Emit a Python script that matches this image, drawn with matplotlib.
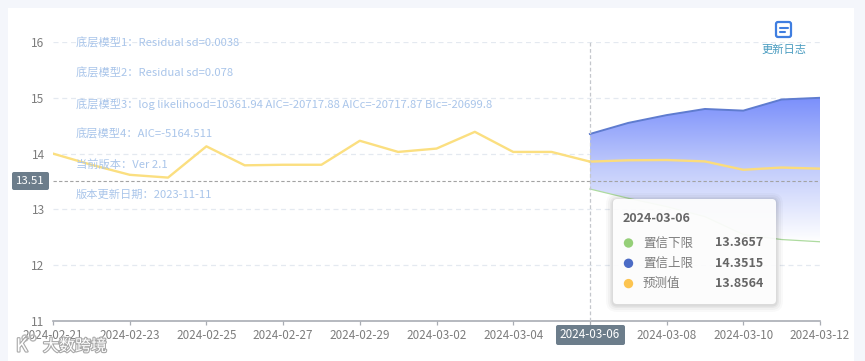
import matplotlib
matplotlib.use('Agg')
import matplotlib.pyplot as plt
import matplotlib.dates as mdates
import matplotlib.patheffects as pe
import numpy as np
import pandas as pd
from matplotlib.colors import LinearSegmentedColormap
from matplotlib.patches import FancyBboxPatch, PathPatch, Circle
from matplotlib.path import Path

plt.rcParams['font.family'] = ['Noto Sans CJK SC', 'DejaVu Sans']

W, H = 865, 361

hist_dates = ['2024-02-21', '2024-02-22', '2024-02-23', '2024-02-24', '2024-02-25',
              '2024-02-26', '2024-02-27', '2024-02-28', '2024-02-29', '2024-03-01',
              '2024-03-02', '2024-03-03', '2024-03-04', '2024-03-05', '2024-03-06']
hist_values = [14.00, 13.80, 13.62, 13.57, 14.13, 13.79, 13.80, 13.80, 14.23,
               14.03, 14.09, 14.39, 14.03, 14.03, 13.8564]

fc_dates = ['2024-03-06', '2024-03-07', '2024-03-08', '2024-03-09',
            '2024-03-10', '2024-03-11', '2024-03-12']
fc_pred = [13.8564, 13.88, 13.885, 13.86, 13.71, 13.75, 13.73]
fc_upper = [14.3515, 14.55, 14.69, 14.80, 14.77, 14.97, 15.00]
fc_lower = [13.3657, 13.20, 13.05, 12.87, 12.55, 12.46, 12.42]

y_ticks = [11, 12, 13, 14, 15, 16]
x_ticks = ['2024-02-21', '2024-02-23', '2024-02-25', '2024-02-27', '2024-02-29',
           '2024-03-02', '2024-03-04', '2024-03-06', '2024-03-08', '2024-03-10', '2024-03-12']
pointer_y = 13.51
pointer_x = '2024-03-06'

notes = ['底层模型1：Residual sd=0.0038',
         '底层模型2：Residual sd=0.078',
         '底层模型3：log likelihood=10361.94 AIC=-20717.88 AICc=-20717.87 BIc=-20699.8',
         '底层模型4：AIC=-5164.511',
         '当前版本：Ver 2.1',
         '版本更新日期：2023-11-11']
tip_names = ['置信下限', '置信上限', '预测值']
tip_values = ['13.3657', '14.3515', '13.8564']
tip_colors = ['#95cf78', '#4c6cc6', '#fcc450']


def px(x, y):
    # pixel position from the top left -> figure fraction
    return x / W, 1 - y / H


fig = plt.figure(figsize=(W / 100, H / 100), dpi=100, facecolor='#f4f6fb')

# white card behind the chart
card = fig.add_axes([8 / W, 0, 846 / W, 1 - 8 / H], zorder=0)
card.set_facecolor('white')
card.set_xticks([])
card.set_yticks([])
for s in card.spines.values():
    s.set_visible(False)

ax = fig.add_axes([53 / W, 1 - 321 / H, 767 / W, 279 / H], zorder=1)
ax.patch.set_alpha(0)

hd = pd.to_datetime(hist_dates)
fd = pd.to_datetime(fc_dates)
xt = pd.to_datetime(x_ticks)
fx = mdates.date2num(fd)

ax.set_xlim(hd[0], fd[-1])
ax.set_ylim(11, 16)

for t in y_ticks[1:]:
    ax.axhline(t, color='#e4e9f0', lw=0.9, ls=(0, (4, 3)), zorder=1)

# band between the bounds, fading out towards the lower one
poly = np.vstack([np.column_stack([fx, fc_upper]),
                  np.column_stack([fx[::-1], fc_lower[::-1]]),
                  [[fx[0], fc_upper[0]]]])
codes = [Path.MOVETO] + [Path.LINETO] * (len(poly) - 2) + [Path.CLOSEPOLY]
clip = PathPatch(Path(poly, codes), transform=ax.transData, fc='none', ec='none')
ax.add_patch(clip)
cmap = LinearSegmentedColormap.from_list('band', ['#7b90fb', '#c3cdfb', '#ffffff'])
grad = np.linspace(0, 1, 256).reshape(-1, 1)
im = ax.imshow(grad, cmap=cmap, aspect='auto', zorder=2,
               extent=[fx[0], fx[-1], min(fc_lower), max(fc_upper)], origin='upper')
im.set_clip_path(clip)
ax.set_xlim(hd[0], fd[-1])
ax.set_ylim(11, 16)

ax.plot(fd, fc_upper, color='#5f7ccf', lw=1.4, zorder=3)
ax.plot(fd, fc_lower, color='#aedba0', lw=0.9, zorder=3)
ax.plot(hd, hist_values, color='#fbdf80', lw=1.7, zorder=4)
ax.plot(fd, fc_pred, color='#fbdc7c', lw=1.7, zorder=4)

ax.axhline(pointer_y, color='#a3a3a3', lw=0.8, ls=(0, (3, 2)), zorder=5)
ax.axvline(pd.to_datetime(pointer_x), color='#c4c7cc', lw=0.9, ls=(0, (3, 2)), zorder=5)

for s in ['top', 'right', 'left']:
    ax.spines[s].set_visible(False)
ax.spines['bottom'].set_color('#a9adb4')
ax.spines['bottom'].set_linewidth(1.2)
ax.set_yticks(y_ticks)
ax.set_yticklabels([str(t) for t in y_ticks])
ax.set_xticks(xt)
ax.set_xticklabels([d.strftime('%Y-%m-%d') for d in xt])
ax.tick_params(axis='y', length=0, pad=6, labelsize=8.6, labelcolor='#7d7d7d')
ax.tick_params(axis='x', length=3, width=0.9, color='#a9adb4', pad=2.5,
               labelsize=8.4, labelcolor='#7d7d7d')
ax.set_axisbelow(False)

# overlay for everything placed in screen pixels
ov = fig.add_axes([0, 0, 1, 1], zorder=2)
ov.set_xlim(0, W)
ov.set_ylim(H, 0)
ov.axis('off')
ov.patch.set_alpha(0)

for i, n in enumerate(notes):
    ov.text(76, 43 + i * 30.4, n, fontsize=8.1, color='#a9c5ea', va='center', ha='left')

# pointer labels
ov.add_patch(FancyBboxPatch((12, 172), 37, 18, boxstyle='round,pad=0,rounding_size=2',
                            fc='#6c7d8b', ec='none'))
ov.text(30.5, 180.5, '13.51', fontsize=8.2, color='white', ha='center', va='center')
ov.add_patch(FancyBboxPatch((556, 325), 69, 20, boxstyle='round,pad=0,rounding_size=2',
                            fc='#6c7d8b', ec='none'))
ov.text(590, 334.5, pointer_x, fontsize=8.4, color='white', ha='center', va='center')

# update log icon
ov.add_patch(FancyBboxPatch((776, 22), 15, 15, boxstyle='round,pad=0,rounding_size=2',
                            fc='white', ec='#3f7ee0', lw=1.6))
ov.plot([780, 787.5], [27.5, 27.5], color='#3f7ee0', lw=1.5, solid_capstyle='round')
ov.plot([780, 785], [31.5, 31.5], color='#3f7ee0', lw=1.5, solid_capstyle='round')
ov.text(783.5, 49.5, '更新日志', fontsize=8.1, color='#4a9cc0', ha='center', va='center')

# tooltip with soft shadow
for grow, a in zip([7, 5, 3, 1.5], [0.025, 0.03, 0.04, 0.05]):
    ov.add_patch(FancyBboxPatch((613 - grow, 199 - grow + 1), 163 + 2 * grow, 105 + 2 * grow,
                                boxstyle=f'round,pad=0,rounding_size={4 + grow}',
                                fc='black', ec='none', alpha=a))
ov.add_patch(FancyBboxPatch((613, 199), 163, 105, boxstyle='round,pad=0,rounding_size=4',
                            fc='white', ec='none', alpha=0.93))
ov.text(623, 218.5, pointer_x, fontsize=9, fontweight='bold', color='#666666', va='center')
for i in range(3):
    y = 243 + i * 20.3
    ov.add_patch(Circle((628.5, y), 4.7, fc=tip_colors[i], ec='none'))
    ov.text(643, y, tip_names[i], fontsize=9, color='#7d7d7d', va='center')
    ov.text(715, y, tip_values[i], fontsize=9, fontweight='bold', color='#666666', va='center')

# watermark
halo = [pe.withStroke(linewidth=1.6, foreground='#a8a8a8')]
ov.text(43, 346.5, '大数跨境', fontsize=11.5, color='white', va='center', path_effects=halo)
ov.text(16, 346.5, 'K', fontsize=13, color='white', va='center', path_effects=halo)
ov.add_patch(Circle((25, 338), 3, fc='none', ec='#b5b5b5', lw=1))
ov.add_patch(Circle((33, 338), 3, fc='none', ec='#b5b5b5', lw=1))

fig.savefig('out.png', dpi=100, facecolor=fig.get_facecolor())
plt.close(fig)
